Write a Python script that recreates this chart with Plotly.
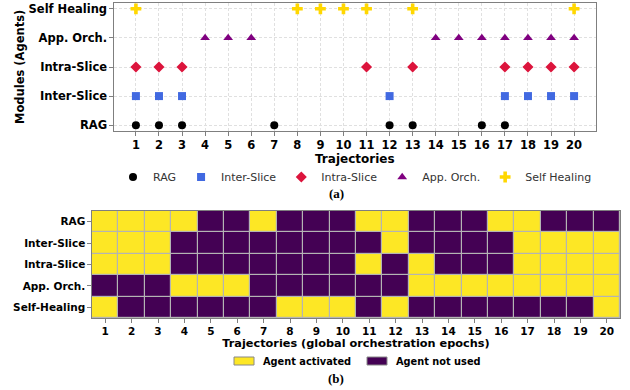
import plotly.graph_objects as go

# ---------------- data ----------------
agents_top = ["RAG", "Inter-Slice", "Intra-Slice", "App. Orch.", "Self Healing"]
rag_traj = [1, 2, 3, 7, 12, 13, 16, 17]
inter_traj = [1, 2, 3, 12, 17, 18, 19, 20]
intra_traj = [1, 2, 3, 11, 13, 17, 18, 19, 20]
app_traj = [4, 5, 6, 14, 15, 16, 17, 18, 19, 20]
heal_traj = [1, 8, 9, 10, 11, 13, 20]

trajectories = list(range(1, 21))
agents_heat = ["RAG", "Inter-Slice", "Intra-Slice", "App. Orch.", "Self-Healing"]
heat_rag = [1, 1, 1, 1, 0, 0, 1, 0, 0, 0, 1, 1, 0, 0, 0, 1, 1, 0, 0, 0]
heat_inter = [1, 1, 1, 0, 0, 0, 0, 0, 0, 0, 0, 1, 0, 0, 0, 0, 1, 1, 1, 1]
heat_intra = [1, 1, 1, 0, 0, 0, 0, 0, 0, 0, 1, 0, 1, 0, 0, 0, 1, 1, 1, 1]
heat_app = [0, 0, 0, 1, 1, 1, 0, 0, 0, 0, 0, 0, 1, 1, 1, 1, 1, 1, 1, 1]
heat_heal = [1, 0, 0, 0, 0, 0, 0, 1, 1, 1, 0, 1, 0, 0, 0, 0, 0, 0, 0, 1]

W, H = 630, 390
def px(v): return v / W
def py(v): return 1 - v / H

FONT = "DejaVu Sans"
YEL, PUR = "#FDE725", "#440154"
FRAME = "#7f7f7f"

fig = go.Figure()

series = [
    ("RAG", rag_traj, 0, "circle", "black", 8),
    ("Inter-Slice", inter_traj, 1, "square", "#4169E1", 8),
    ("Intra-Slice", intra_traj, 2, "diamond", "#DC143C", 8.5),
    ("App. Orch.", app_traj, 3, "triangle-up", "purple", 8.5),
    ("Self Healing", heal_traj, 4, "cross", "#FFD700", 9),
]
for name, xs, yi, sym, col, sz in series:
    fig.add_trace(go.Scatter(
        x=xs, y=[yi] * len(xs), mode="markers", name=name,
        marker=dict(symbol=sym, color=col, size=sz, line=dict(width=0)),
        xaxis="x", yaxis="y", showlegend=True,
    ))

# heatmap: bottom row first
z = [heat_heal, heat_app, heat_intra, heat_inter, heat_rag]
fig.add_trace(go.Heatmap(
    x=trajectories, y=[0, 1, 2, 3, 4], z=z,
    colorscale=[[0, PUR], [1, YEL]], zmin=0, zmax=1, showscale=False,
    xgap=1.2, ygap=1.2, xaxis="x2", yaxis="y2", showlegend=False,
))

tickfont_b = dict(family=FONT, size=11.5, color="black", weight="bold")
tickfont_b2 = dict(family=FONT, size=10.5, color="black", weight="bold")
GRID = dict(showgrid=True, gridcolor="#e0e0e0", griddash="3px,2px", gridwidth=0.8)

fig.update_layout(
    width=W, height=H, margin=dict(l=0, r=0, t=0, b=0, autoexpand=False),
    paper_bgcolor="white", plot_bgcolor="white",
    xaxis=dict(
        domain=[px(114), px(596)], anchor="y", range=[0.05, 20.95], automargin=False,
        tickvals=trajectories, tickfont=tickfont_b,
        showline=True, mirror=True, linecolor=FRAME, linewidth=1.2,
        ticks="outside", ticklen=3.5, tickcolor=FRAME,
        zeroline=False, **GRID,
    ),
    yaxis=dict(
        domain=[py(131), py(3)], anchor="x", range=[-0.2, 4.2], automargin=False,
        tickvals=[0, 1, 2, 3, 4], ticktext=agents_top, tickfont=tickfont_b,
        showline=True, mirror=True, linecolor=FRAME, linewidth=1.2,
        ticks="outside", ticklen=3.5, tickcolor=FRAME,
        zeroline=False, **GRID,
    ),
    xaxis2=dict(
        domain=[px(92), px(620)], anchor="y2", range=[0.5, 20.5], automargin=False,
        tickvals=trajectories, tickfont=tickfont_b2,
        showline=True, mirror=True, linecolor=FRAME, linewidth=1.2,
        ticks="outside", ticklen=3.5, tickcolor=FRAME,
        showgrid=False, zeroline=False,
        title=dict(text="Trajectories (global orchestration epochs)",
                   font=dict(family=FONT, size=11.3, color="black", weight="bold"), standoff=2),
    ),
    yaxis2=dict(
        domain=[py(318), py(211)], anchor="x2", range=[-0.5, 4.5], automargin=False,
        tickvals=[0, 1, 2, 3, 4], ticktext=agents_heat[::-1], tickfont=tickfont_b2,
        showline=True, mirror=True, linecolor=FRAME, linewidth=1.2,
        ticks="outside", ticklen=3.5, tickcolor=FRAME,
        showgrid=False, zeroline=False,
    ),
    legend=dict(
        orientation="h", x=px(355), xanchor="center", y=py(177), yanchor="middle",
        font=dict(family=FONT, size=11, color="#333"), bgcolor="rgba(0,0,0,0)",
        itemclick=False,
    ),
)

# axis titles of panel (a)
fig.add_annotation(xref="paper", yref="paper", x=px(355), y=py(159), xanchor="center", yanchor="middle",
                   text="Trajectories", showarrow=False,
                   font=dict(family=FONT, size=12, color="black", weight="bold"))
fig.add_annotation(xref="paper", yref="paper", x=px(20), y=py(67), xanchor="center", yanchor="middle",
                   text="Modules (Agents)", showarrow=False, textangle=-90,
                   font=dict(family=FONT, size=11.5, color="black", weight="bold"))

# grey cell borders behind the heatmap
fig.add_shape(type="rect", xref="x2 domain", yref="y2 domain", x0=0, x1=1, y0=0, y1=1,
              fillcolor="#b4b4b4", line=dict(width=0), layer="below")

# heatmap legend (drawn patches)
fig.add_shape(type="rect", xref="paper", yref="paper", x0=px(234), x1=px(254), y0=py(365), y1=py(357),
              fillcolor=YEL, line=dict(color="#888", width=1))
fig.add_shape(type="rect", xref="paper", yref="paper", x0=px(367), x1=px(387), y0=py(365), y1=py(357),
              fillcolor=PUR, line=dict(color="#888", width=1))
fig.add_annotation(xref="paper", yref="paper", x=px(261), y=py(361), xanchor="left", yanchor="middle",
                   text="Agent activated", showarrow=False,
                   font=dict(family=FONT, size=9.8, color="black", weight="bold"))
fig.add_annotation(xref="paper", yref="paper", x=px(394), y=py(361), xanchor="left", yanchor="middle",
                   text="Agent not used", showarrow=False,
                   font=dict(family=FONT, size=9.8, color="black", weight="bold"))

# panel labels
for lab, yy in [("(a)", 193), ("(b)", 378)]:
    fig.add_annotation(xref="paper", yref="paper", x=px(336), y=py(yy), xanchor="center", yanchor="middle",
                       text=lab, showarrow=False,
                       font=dict(family="Liberation Serif", size=13, color="black", weight="bold"))

fig.write_html("out.html", config={"displayModeBar": False},
               post_script="document.body.style.margin='0';")
